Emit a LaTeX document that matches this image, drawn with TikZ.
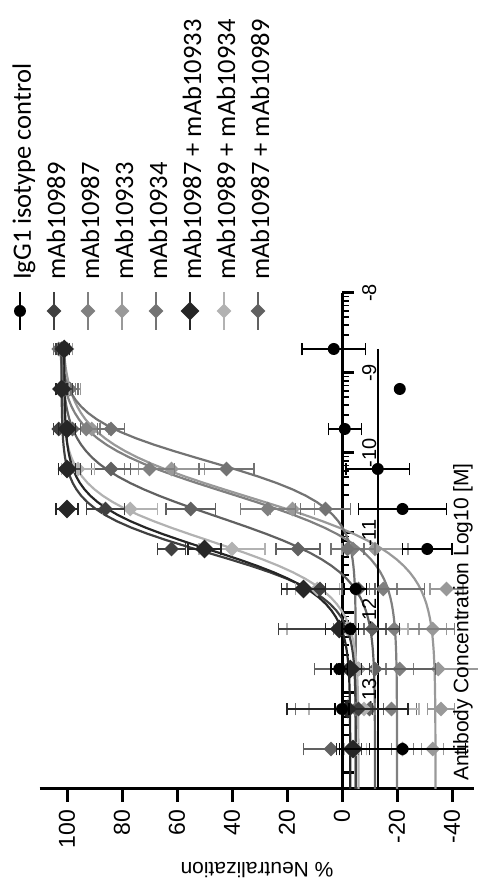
\documentclass[tikz,border=0pt]{standalone}
\usepackage{fontspec}
\setmainfont{Liberation Sans}
\newfontfamily\legendfont{Carlito}
\usetikzlibrary{shapes.geometric}
\definecolor{abA}{gray}{0.25}
\definecolor{abB}{gray}{0.50}
\definecolor{abC}{gray}{0.60}
\definecolor{abD}{gray}{0.45}
\definecolor{abE}{gray}{0.15}
\definecolor{abF}{gray}{0.70}
\definecolor{abG}{gray}{0.38}

\tikzset{
  axisline/.style={line width=3pt},
  minortick/.style={line width=1.6pt},
  fitline/.style={line width=2.2pt},
  errbar/.style={line width=1.4pt},
  mkc/.style={circle, inner sep=0pt, minimum size=12pt},
  mkd/.style={diamond, inner sep=0pt, minimum size=15pt},
  mkb/.style={diamond, inner sep=0pt, minimum size=19pt},
  ytick/.style={rotate=90, anchor=east, font=\fontsize{23}{26}\selectfont},
  xtick/.style={rotate=90, anchor=north, font=\fontsize{20}{24}\selectfont},
  legtext/.style={rotate=90, anchor=base west, inner sep=0pt, font=\legendfont\fontsize{26.5}{30}\selectfont},
  declare function={fpl(\vx,\vt,\vb,\vc,\vh)=\vb+(\vt-(\vb))/(1+10^(min(4,max(-4,(\vc-(\vx))*\vh))));}
}

\begin{document}
\begin{tikzpicture}[x=1pt, y=1pt]
\useasboundingbox (0,0) rectangle (478,892);

% legend
\foreach \lab/\col/\mk [count=\k from 0] in {IgG1 isotype control/black/mkc, mAb10989/abA/mkd,
    mAb10987/abB/mkd, mAb10933/abC/mkd, mAb10934/abD/mkd, mAb10987 + mAb10933/abE/mkb,
    mAb10989 + mAb10934/abF/mkd, mAb10987 + mAb10989/abG/mkd}{
  \draw[errbar, \col] (20+34*\k, 562) -- (20+34*\k, 600);
  \node[\mk, fill=\col] (leg\k) at (20+34*\k, 581) {};
  \node[legtext] (legtxt\k) at (31+34*\k, 612) {\lab};
}

% axis titles
\node[rotate=180, font=\fontsize{21}{24}\selectfont] (ytitle) at (257,22) {\% Neutralization};

% plot: x = log10 concentration (up the page), y = % neutralization (to the left)
\begin{scope}[shift={(342pt,1239pt)}, x={(0pt,80pt)}, y={(-2.75pt,0pt)}]
  % axes
  \draw[axisline] (-14.2,110) -- (-14.2,-48);
  \foreach \v in {100,80,...,-40}{
    \draw[axisline] (-14.2,\v) -- (-14.36,\v);
    \node[ytick] at (-14.42,\v) {\v};
  }
  \draw[axisline] (-14.2,0) -- (-8,0);
  \foreach \d in {-8,-9,...,-14}
    \draw[axisline] (\d,0) -- (\d,-4.5);
  \foreach \d in {-9,-10,...,-14}
    \foreach \k in {2,...,9}
      \draw[minortick] ({\d+log10(\k)},0) -- ({\d+log10(\k)},-2.6);

  % fitted curves
  \foreach \col/\ft/\fb/\fc/\fh in {abC/102/-34/-10.55/1.2, abB/103/-20/-10.5/1.3,
      abD/103/-5/-10.1/1.6, abG/102/-12/-10.8/1.3, abF/102/-6/-11.1/1.4,
      abA/102/-5/-11.25/1.6, abE/101/-3/-11.2/1.5}
    \draw[fitline, \col] plot[domain=-14.2:-8.7, samples=70] (\x, {fpl(\x,\ft,\fb,\fc,\fh)});
  \draw[fitline, black] (-8.7,-13.1) -- (-14.2,-13.1);

  \foreach \d in {-8,-9,...,-13}
    \node[xtick] at (\d,-6) {\d};

  % data points, mean and error
  \foreach \col/\mk/\pts in {
      abC/mkd/{100/2,99/4,91/6,62/12,18/8,-12/12,-38/6,-33/5,-35/22,-36/5,-33/4},
      abB/mkd/{101/2,100/3,93/5,70/9,27/10,-4/8,-15/5,-19/22,-21/5,-18/6,-22/4},
      abD/mkd/{103/2,99/3,84/5,42/10,6/9,-2/6,-5/25,-3/5,-6/4,-5/22,-4/5},
      abG/mkd/{102/2,101/2,98/3,84/7,55/9,16/8,-6/6,-11/5,-12/22,-10/5,4/10},
      abF/mkd/{102/2,101/2,100/3,96/6,77/10,40/12,9/8,-2/22,-6/5,-8/20,-5/4},
      abA/mkd/{102/2,101/3,103/2,99/4,86/7,62/5,8/14,1/22,-4/6,-6/5,-3/4},
      abE/mkb/{101/2,102/2,100/3,100/3,100/4,50/6,14/8,1/5,-3/4,-2/22,-4/6},
      black/mkc/{3/11.5,-21/0,-1/6,-13/11.5,-22/16,-31/9,-5/4,-3/3,1/3,0/2.5,-22/23}}{
    \foreach \py/\pe [count=\i from 0] in \pts {
      \pgfmathsetmacro\px{-8.7-0.5*\i}
      \ifdim\pe pt>0pt
        \draw[errbar, \col] (\px,\py-\pe) -- (\px,\py+\pe)
          (\px-0.08,\py-\pe) -- (\px+0.08,\py-\pe)
          (\px-0.08,\py+\pe) -- (\px+0.08,\py+\pe);
      \fi
      \node[\mk, fill=\col] at (\px,\py) {};
    }
  }
\end{scope}

\node[rotate=90, font=\fontsize{21}{24}\selectfont] (xtitle) at (463,270) {Antibody Concentration Log10 [M]};
\end{tikzpicture}
\end{document}
